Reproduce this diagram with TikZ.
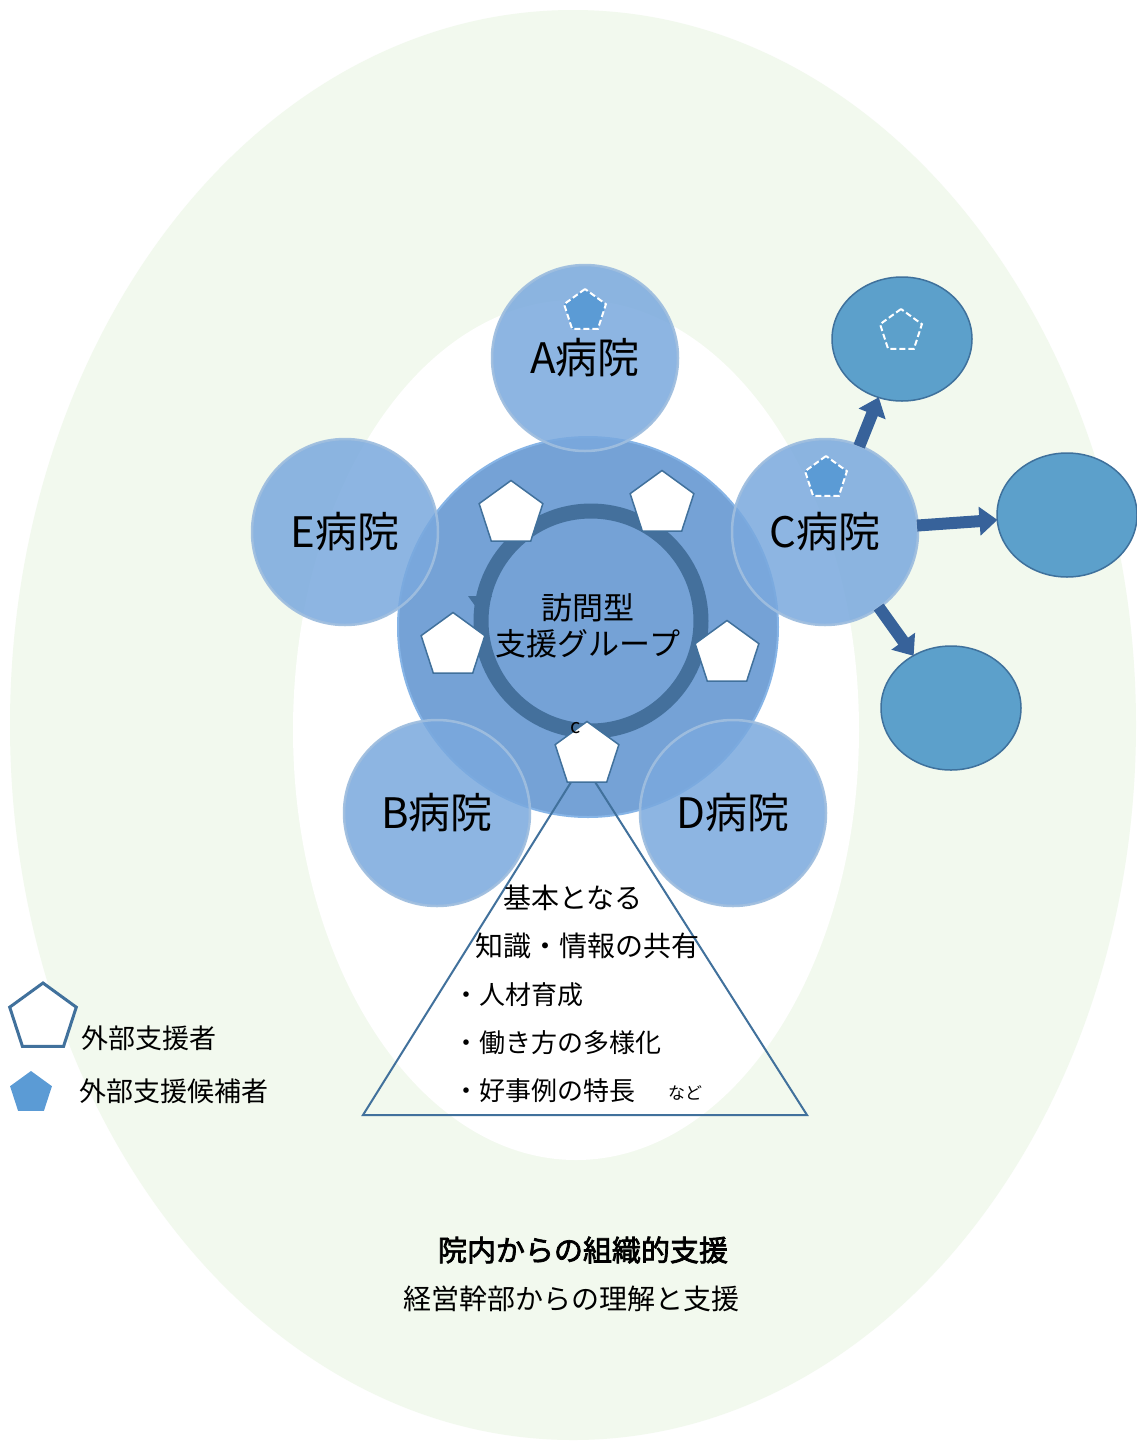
\documentclass[tikz,border=0pt]{standalone}
\usepackage{fontspec}
\setmainfont{Noto Sans CJK JP}
\newfontfamily\cjkb[FakeBold=2.5]{Noto Sans CJK JP}
\usetikzlibrary{shapes.geometric,arrows.meta}
\definecolor{bggreen}{HTML}{F2F9EE}
\definecolor{centfill}{HTML}{6A9BD3}
\definecolor{centedge}{HTML}{86B4E6}
\definecolor{hospfill}{HTML}{7AA9DE}
\definecolor{hospedge}{HTML}{9FBEDF}
\definecolor{ringcol}{HTML}{44709C}
\definecolor{pentedge}{HTML}{41719C}
\definecolor{candfill}{HTML}{5B9BD5}
\definecolor{ellfill}{HTML}{5CA0CB}
\definecolor{elledge}{HTML}{3F719C}
\definecolor{arrowcol}{HTML}{37629A}
\tikzset{
  hosp/.style={circle, minimum size=186pt, inner sep=0pt, fill=hospfill, fill opacity=0.85, text opacity=1, draw=hospedge, draw opacity=0.95, line width=2.5pt, font=\fontsize{42}{46}\selectfont},
  extell/.style={ellipse, minimum width=140pt, minimum height=124pt, inner sep=0pt, fill=ellfill, draw=elledge, line width=1.5pt},
  member/.style={regular polygon, regular polygon sides=5, minimum size=67pt, inner sep=0pt, fill=white, draw=pentedge, line width=1.5pt},
  cand/.style={regular polygon, regular polygon sides=5, minimum size=44pt, inner sep=0pt, fill=candfill, draw=white, dash pattern=on 6pt off 3pt, line width=2pt},
  candnf/.style={regular polygon, regular polygon sides=5, minimum size=44pt, inner sep=0pt, draw=white, dash pattern=on 6pt off 3pt, line width=2pt},
  bigarrow/.style={draw=arrowcol, line width=12pt, -{Triangle[width=28pt,length=18pt]}},
  tri/.style={draw=pentedge, line width=2pt},
  lbl/.style={inner sep=0pt, anchor=base},
}
\begin{document}
\begin{tikzpicture}[x=1pt,y=-1pt]
\useasboundingbox (0,0) rectangle (1136,1441);
\fill[white] (0,0) rectangle (1136,1441);
% background ellipses
\fill[bggreen] (573,725) ellipse [x radius=563pt, y radius=715pt];
\fill[white] (576,730) ellipse [x radius=283pt, y radius=430pt];
% central circle
\node[circle, minimum size=380pt, inner sep=0pt, fill=centfill, fill opacity=0.92, draw=centedge, line width=2pt] (grp) at (588,627) {};
% ring
\draw[ringcol, line width=15pt] (591,621) circle [radius=110pt];
\fill[ringcol] (468,596) -- (492,596) -- (481,614) -- cycle;
\node[inner sep=0pt, align=center, font=\fontsize{31}{36}\selectfont] (grplbl) at (588,626) {訪問型\\支援グループ};
% hospitals
\node[hosp] (A) at (585,358) {A病院};
\node[hosp] (E) at (345,532) {E病院};
\node[hosp] (C) at (825,532) {C病院};
\node[hosp] (B) at (437,813) {B病院};
\node[hosp] (D) at (733,813) {D病院};
% candidate pentagons
\node[cand] (pa) at (585,311) {};
\node[cand] (pc) at (826,478) {};
% external ellipses
\node[extell] (X1) at (902,339) {};
\node[extell] (X2) at (1067,515) {};
\node[extell] (X3) at (951,708) {};
\node[candnf] (px) at (901,331) {};
% arrows
\draw[bigarrow, shorten <=-2pt, shorten >=-1pt] (C) -- (X1);
\draw[bigarrow, shorten <=-2pt, shorten >=-1pt] (C) -- (X2);
\draw[bigarrow, shorten <=-2pt, shorten >=-1pt] (C) -- (X3);
% triangle
\coordinate (t1) at (583,763);
\coordinate (t2) at (363,1115);
\coordinate (t3) at (807,1115);
\draw[tri] (t1) -- (t2) -- (t3) -- cycle;
% member pentagons
\node[member] (m1) at (511,514) {};
\node[member] (m2) at (662,504) {};
\node[member] (m3) at (453,646) {};
\node[member] (m4) at (727,654) {};
\node[member] (m5) at (587,755) {};
\node[inner sep=0pt, font=\fontsize{20}{22}\selectfont] (cc) at (576,728) {c};
% triangle texts
\node[lbl, font=\fontsize{28}{30}\selectfont] (k1) at (573,908) {基本となる};
\node[lbl, font=\fontsize{28}{30}\selectfont] (k2) at (587,956) {知識・情報の共有};
\node[lbl, anchor=base west, font=\fontsize{26}{28}\selectfont] (k3) at (453,1004) {・人材育成};
\node[lbl, anchor=base west, font=\fontsize{26}{28}\selectfont] (k4) at (453,1052) {・働き方の多様化};
\node[lbl, anchor=base west, font=\fontsize{26}{28}\selectfont] (k5) at (453,1100) {・好事例の特長};
\node[lbl, anchor=base west, font=\fontsize{17}{19}\selectfont] (k6) at (668,1099) {など};
% legend
\node[regular polygon, regular polygon sides=5, minimum size=70pt, inner sep=0pt, fill=white, draw=pentedge, line width=3pt] (lg1) at (43,1018) {};
\node[regular polygon, regular polygon sides=5, minimum size=44pt, inner sep=0pt, fill=candfill] (lg2) at (31,1093) {};
\node[lbl, anchor=base west, font=\fontsize{27}{29}\selectfont] (lt1) at (81,1048) {外部支援者};
\node[lbl, anchor=base west, font=\fontsize{27}{29}\selectfont] (lt2) at (79,1101) {外部支援候補者};
% bottom texts
\node[lbl, font=\cjkb\fontsize{29}{31}\selectfont] (b1) at (583,1261) {院内からの組織的支援};
\node[lbl, font=\fontsize{28}{30}\selectfont] (b2) at (571,1309) {経営幹部からの理解と支援};
\end{tikzpicture}
\end{document}
